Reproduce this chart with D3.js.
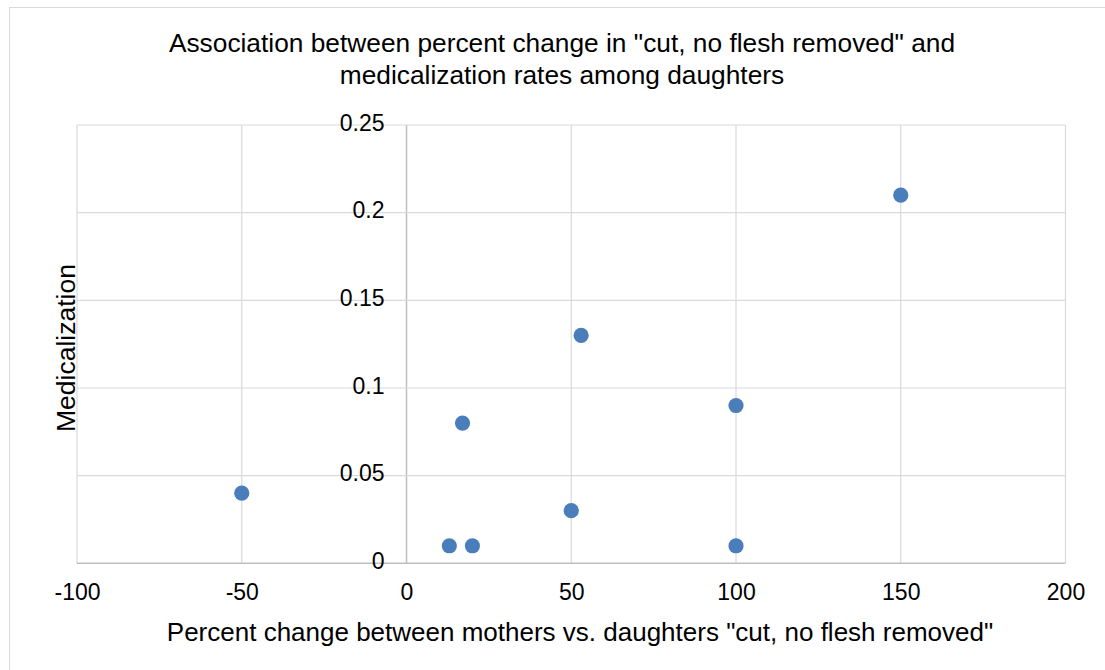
<!DOCTYPE html>
<html><head><meta charset="utf-8">
<script src="https://cdn.jsdelivr.net/npm/d3@7"></script>
<style>body{margin:0;background:#fff}</style>
</head><body>
<svg id="c" width="1105" height="670"></svg>
<script>
const xValues = [-50, 13, 20, 17, 50, 53, 100, 100, 150];
const yValues = [0.04, 0.01, 0.01, 0.08, 0.03, 0.13, 0.09, 0.01, 0.21];
const xTicks = [-100, -50, 0, 50, 100, 150, 200];
const yTicks = [0, 0.05, 0.1, 0.15, 0.2, 0.25];
const titleLines = ['Association between percent change in "cut, no flesh removed" and', 'medicalization rates among daughters'];
const xTitle = 'Percent change between mothers vs. daughters "cut, no flesh removed"';
const yTitle = 'Medicalization';

const svg = d3.select('#c');
const titleFont = '"Liberation Sans Narrow", "Arial Narrow", "Liberation Sans", Arial, sans-serif';
const tickFont = '"Liberation Sans", Arial, sans-serif';

svg.append('rect').attr('x', 9.5).attr('y', 7.5).attr('width', 1200).attr('height', 700)
  .attr('fill', '#fff').attr('stroke', '#d9d9d9').attr('stroke-width', 1);

const x = d3.scaleLinear().domain([-100, 200]).range([77, 1065.5]);
const y = d3.scaleLinear().domain([0, 0.25]).range([563.3, 125]);

// gridlines
const g = svg.append('g');
g.selectAll('.vg').data(xTicks).enter().append('line')
  .attr('x1', d => x(d)).attr('x2', d => x(d)).attr('y1', y(0)).attr('y2', y(0.25))
  .attr('stroke', d => d === 0 ? '#bfbfbf' : '#d9d9d9').attr('stroke-width', d => d === 0 ? 1.5 : 1.2);
g.selectAll('.hg').data(yTicks).enter().append('line')
  .attr('x1', x(-100)).attr('x2', x(200)).attr('y1', d => y(d)).attr('y2', d => y(d))
  .attr('stroke', d => d === 0 ? '#bfbfbf' : '#d9d9d9').attr('stroke-width', d => d === 0 ? 1.5 : 1.2);

// axes using d3 axes, positioned at crossings
const xAxis = d3.axisBottom(x).tickValues(xTicks).tickSize(0).tickPadding(20).tickFormat(d => String(d));
const xg = svg.append('g').attr('transform', `translate(0,${y(0)})`).call(xAxis);
xg.select('.domain').remove();
xg.selectAll('text').attr('font-family', tickFont).attr('font-size', 23).attr('fill', '#000');

const yAxis = d3.axisLeft(y).tickValues(yTicks).tickSize(0).tickPadding(22).tickFormat(d => d === 0 ? '0' : String(+d.toFixed(2)));
const yg = svg.append('g').attr('transform', `translate(${x(0)},0)`).call(yAxis);
yg.select('.domain').remove();
yg.selectAll('text').attr('font-family', tickFont).attr('font-size', 23).attr('fill', '#000')
  .attr('dy', '0.23em');

// points
svg.append('g').selectAll('circle').data(xValues.map((v, i) => [v, yValues[i]])).enter()
  .append('circle').attr('cx', d => x(d[0])).attr('cy', d => y(d[1])).attr('r', 7.6)
  .attr('fill', '#4a7ebb');

// title
svg.append('text').attr('x', 562).attr('y', 51.5).attr('text-anchor', 'middle')
  .attr('font-family', titleFont).attr('font-size', 26.3).attr('fill', '#000')
  .selectAll('tspan').data(titleLines).enter().append('tspan')
  .attr('x', 562).attr('dy', (d, i) => i === 0 ? 0 : 32).text(d => d);

svg.append('text').attr('x', 580).attr('y', 641).attr('text-anchor', 'middle')
  .attr('font-family', titleFont).attr('font-size', 26).attr('fill', '#000').text(xTitle);

svg.append('text').attr('transform', 'translate(75,348) rotate(-90)').attr('text-anchor', 'middle')
  .attr('font-family', tickFont).attr('font-size', 26.5).attr('fill', '#000').text(yTitle);
</script>
</body></html>
